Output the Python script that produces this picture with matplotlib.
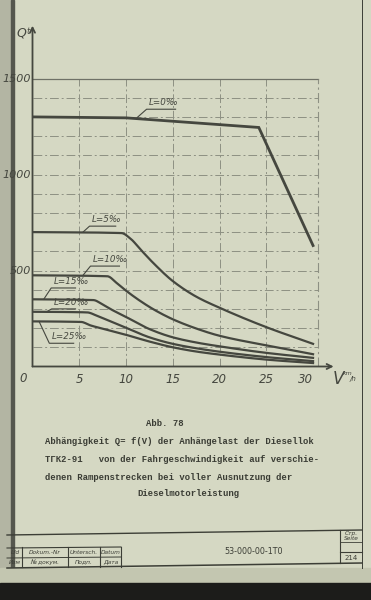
import numpy as np
import matplotlib
matplotlib.use("Agg")
import matplotlib.pyplot as plt
from matplotlib.patches import Rectangle
from matplotlib.lines import Line2D

# Abb. 78 - Anhaengelast Q [t] ueber Geschwindigkeit V [km/h]
curve_names = ['L=0‰', 'L=5‰', 'L=10‰', 'L=15‰', 'L=20‰', 'L=25‰']

v_l0 = [0, 10, 24.2, 30]
q_l0 = [1300, 1295, 1245, 630]

v_l5 = [0, 9.5, 10.5, 11.5, 13, 15, 17.5, 20, 25, 30]
q_l5 = [700, 695, 665, 612, 535, 445, 364, 306, 205, 118]

v_l10 = [0, 8, 9, 10, 11.5, 13, 15, 17.5, 20, 25, 30]
q_l10 = [475, 470, 435, 395, 342, 296, 246, 198, 160, 110, 64]

v_l15 = [0, 6.5, 7.5, 8.5, 10, 12.5, 15, 17.5, 20, 25, 30]
q_l15 = [350, 346, 323, 295, 258, 195, 152, 125, 105, 71, 45]

v_l20 = [0, 5.8, 7, 8, 10, 12.5, 15, 17.5, 20, 25, 30]
q_l20 = [285, 282, 262, 242, 202, 152, 118, 95, 77, 49, 28]

v_l25 = [0, 5.2, 6.2, 7.5, 10, 12.5, 15, 17.5, 20, 25, 30]
q_l25 = [235, 232, 214, 197, 165, 130, 100, 78, 62, 36, 18]

x_ticks = [5, 10, 15, 20, 25, 30]
y_ticks = [500, 1000, 1500]

caption = ["Abb. 78",
           "Abhängigkeit Q= f(V) der Anhängelast der Diesellok",
           "ТГК2-91   von der Fahrgeschwindigkeit auf verschie-",
           "denen Rampenstrecken bei voller Ausnutzung der",
           "Dieselmotorleistung"]

W, H = 371, 600
paper = '#d5d8c3'
ink = '#45473f'
grid_c = '#8d9083'


def pchip(x, y, xs):
    x = np.asarray(x, float)
    y = np.asarray(y, float)
    h = np.diff(x)
    d = np.diff(y) / h
    m = np.zeros_like(y)
    for k in range(1, len(x) - 1):
        if d[k - 1] * d[k] > 0:
            w1 = 2 * h[k] + h[k - 1]
            w2 = h[k] + 2 * h[k - 1]
            m[k] = (w1 + w2) / (w1 / d[k - 1] + w2 / d[k])
    m[0] = d[0]
    m[-1] = d[-1]
    i = np.clip(np.searchsorted(x, xs) - 1, 0, len(h) - 1)
    t = (xs - x[i]) / h[i]
    h00 = 2 * t**3 - 3 * t**2 + 1
    h10 = t**3 - 2 * t**2 + t
    h01 = -2 * t**3 + 3 * t**2
    h11 = t**3 - t**2
    return h00 * y[i] + h10 * h[i] * m[i] + h01 * y[i + 1] + h11 * h[i] * m[i + 1]


def fx(x):
    return x / W


def fy(y):
    return 1 - y / H


fig = plt.figure(figsize=(W / 100, H / 100), dpi=100, facecolor=paper)

# left binding strip and dark bottom edge
def band(x0, y0, x1, y1, c):
    fig.patches.append(Rectangle((fx(x0), fy(y1)), fx(x1) - fx(x0), fy(y0) - fy(y1),
                                 transform=fig.transFigure, color=c, zorder=-5))


band(0, 0, 12, 600, '#b3b5a3')
band(11, 0, 14, 600, '#55574e')
band(0, 568, 371, 583, '#c3c6b0')
band(0, 583, 371, 600, '#1c1c1a')

ax = fig.add_axes([fx(32.5), fy(366.5), 308.6 / W, 345.6 / H])
ax.set_xlim(0, 33)
ax.set_ylim(0, 1800)
ax.set_facecolor('none')
for s in ax.spines.values():
    s.set_visible(False)
ax.set_xticks([])
ax.set_yticks([])

# grid (dashed, like a printed form)
dash = (0, (9, 3, 2, 3))
for q in range(100, 1500, 100):
    ax.plot([0, 30.5], [q, q], color=grid_c, lw=0.7, ls=dash, zorder=1)
for v in x_ticks[:-1]:
    ax.plot([v, v], [0, 1500], color=grid_c, lw=0.7, ls=dash, zorder=1)
ax.plot([0, 30.5], [1500, 1500], color='#6f7167', lw=0.9, zorder=1)
ax.plot([30.5, 30.5], [0, 1500], color=grid_c, lw=0.8, ls=dash, zorder=1)

# axes with arrows
ax.annotate('', xy=(0, 1775), xytext=(0, 0),
            arrowprops=dict(arrowstyle='->', lw=1.3, color=ink,
                            mutation_scale=9, shrinkA=0, shrinkB=0),
            annotation_clip=False)
ax.annotate('', xy=(32.2, 0), xytext=(0, 0),
            arrowprops=dict(arrowstyle='->', lw=1.3, color=ink,
                            mutation_scale=9, shrinkA=0, shrinkB=0),
            annotation_clip=False)

# curves
ax.plot(v_l0, q_l0, color=ink, lw=2.0, zorder=3, solid_joinstyle='miter')
series = [(v_l5, q_l5), (v_l10, q_l10), (v_l15, q_l15),
          (v_l20, q_l20), (v_l25, q_l25)]
for v, q in series:
    vs = np.linspace(v[0], v[-1], 400)
    ax.plot(vs, pchip(v, q, vs), color=ink, lw=1.6, zorder=3)

# curve labels with leaders: text x, underline y, leader start, underline end
label_pos = [
    (12.2, 1340, (11.2, 1297), (15.3, 1340)),
    (6.1, 731, (5.4, 700), (8.9, 731)),
    (6.2, 523, (5.4, 475), (9.3, 523)),
    (2.0, 409, (1.2, 350), (4.6, 409)),
    (2.05, 300, (1.5, 285), (4.6, 300)),
    (1.8, 121, (0.7, 235), (4.4, 121)),
]
for name, (tx, uy, (lx, ly), (ex, ey)) in zip(curve_names, label_pos):
    ax.plot([lx, tx, ex], [ly, uy, ey], color=ink, lw=0.8, zorder=2)
    ax.text(tx + 0.25, uy + 12, name, fontsize=6.3, style='italic',
            color=ink, ha='left', va='bottom', zorder=4)

# tick labels
for v in x_ticks:
    off = -0.8 if v == 30 else 0
    ax.text(v + off, -35, str(v), fontsize=8.5, style='italic', color=ink,
            ha='center', va='top')
for q in y_ticks:
    ax.text(-0.15, q, str(q), fontsize=8, style='italic', color=ink,
            ha='right', va='center')
ax.text(-1.0, -30, '0', fontsize=8.5, style='italic', color=ink,
        ha='center', va='top')

fig.text(fx(16), fy(37), 'Q', fontsize=9, style='italic', color=ink)
fig.text(fx(26), fy(34), 't', fontsize=6, style='italic', color=ink)
fig.text(fx(333), fy(384), 'V', fontsize=12, style='italic', color=ink)
fig.text(fx(343), fy(375), 'km', fontsize=4.5, style='italic', color=ink)
fig.text(fx(350), fy(381), '/h', fontsize=5, style='italic', color=ink)

# caption (typewriter)
mono = dict(family='Liberation Mono', fontsize=6.4, weight='bold', color='#3b3d35')
fig.text(fx(146), fy(423), caption[0], va='center', ha='left', **mono)
fig.text(fx(45), fy(442), caption[1], va='center', ha='left', **mono)
fig.text(fx(45), fy(460), caption[2], va='center', ha='left', **mono)
fig.text(fx(45), fy(477), caption[3], va='center', ha='left', **mono)
fig.text(fx(137), fy(493), caption[4], va='center', ha='left', **mono)

# page frame and title block
blk = '#3c3e36'


def seg(x0, y0, x1, y1, lw=0.9):
    fig.add_artist(Line2D([fx(x0), fx(x1)], [fy(y0), fy(y1)],
                          transform=fig.transFigure, color=blk, lw=lw))


seg(362, 0, 362, 568, 0.7)
seg(7, 535, 362, 530, 1.0)
seg(7, 568, 362, 563, 1.1)
seg(7, 548, 121, 547, 0.8)
seg(7, 558, 121, 557, 0.7)
for xv in (22, 68, 100, 121):
    seg(xv, 547, xv, 567, 0.8)
seg(340, 530, 340, 563, 0.8)
seg(340, 542, 362, 542, 0.6)
seg(340, 552, 362, 552, 0.8)

small = dict(fontsize=4.2, style='italic', color=blk, va='center', ha='center')
fig.text(fx(15), fy(552.5), 'Lfd', **small)
fig.text(fx(15), fy(562), 'Изм', **small)
fig.text(fx(45), fy(552.5), 'Dokum.-Nr', **small)
fig.text(fx(45), fy(562), '№ докум.', **small)
fig.text(fx(84), fy(552.5), 'Untersch.', **small)
fig.text(fx(84), fy(562), 'Подп.', **small)
fig.text(fx(110.5), fy(552.5), 'Datum', **small)
fig.text(fx(110.5), fy(562), 'Дата', **small)
fig.text(fx(254), fy(551), '53-000-00-1Т0', fontsize=5.8, color=blk,
         va='center', ha='center')
fig.text(fx(351), fy(533.5), 'Стр.', **small)
fig.text(fx(351), fy(539), 'Seite', **small)
fig.text(fx(351), fy(557.5), '214', fontsize=5, color=blk, va='center', ha='center')

fig.savefig('out.png', dpi=100, facecolor=paper)
